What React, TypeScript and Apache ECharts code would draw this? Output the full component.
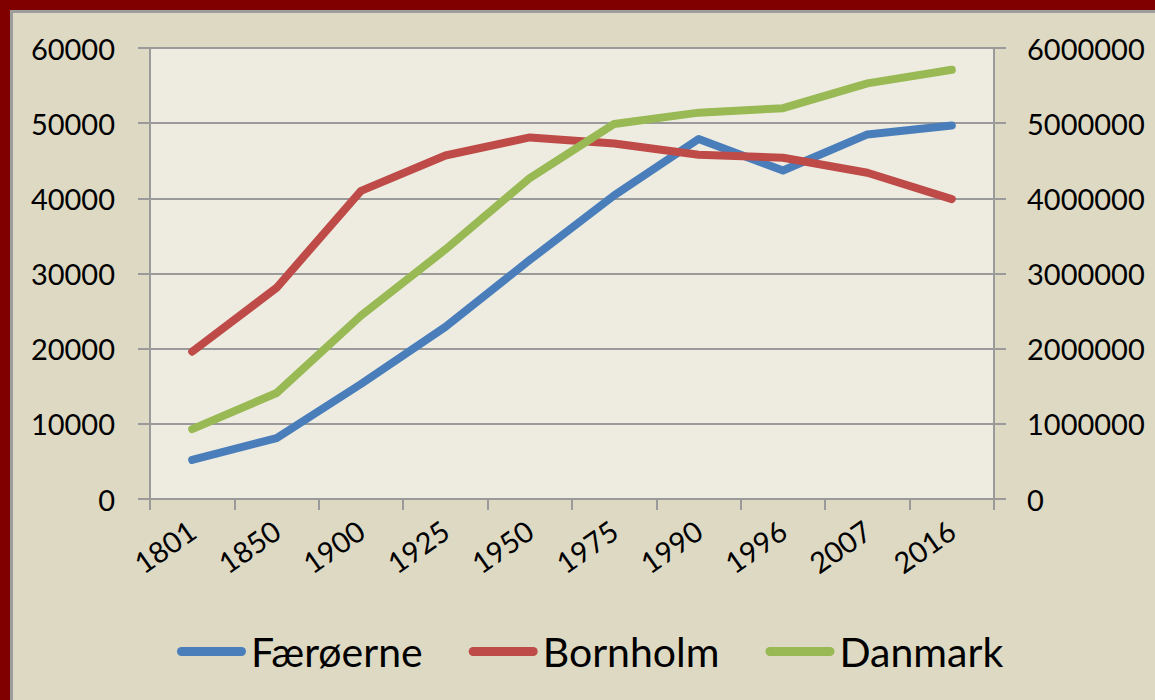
import React, { useEffect, useRef } from "react";
import * as echarts from "echarts";

const categories = ["1801", "1850", "1900", "1925", "1950", "1975", "1990", "1996", "2007", "2016"];
const faeroerne = [5200, 8100, 15300, 22900, 31800, 40400, 47900, 43700, 48500, 49700];
const bornholm = [19600, 28100, 41000, 45700, 48100, 47300, 45800, 45400, 43400, 39900];
const danmark = [929000, 1410000, 2440000, 3320000, 4270000, 4990000, 5140000, 5200000, 5530000, 5710000];
const leftTicks = { min: 0, max: 60000, interval: 10000 };
const rightTicks = { min: 0, max: 6000000, interval: 1000000 };

const FONT = "Lato";
const GRAY = "#9a9a9a";
const legendIcon = "path://M4.5,0 L64.5,0 A4.5,4.5 0 0 1 64.5,9 L4.5,9 A4.5,4.5 0 0 1 4.5,0 Z";

export default function App() {
  const ref = useRef<HTMLDivElement>(null);
  useEffect(() => {
    if (!ref.current) return;
    const chart = echarts.init(ref.current, undefined, { renderer: "svg" });
    const lineStyle = (color: string) => ({ color, width: 8, cap: "round", join: "round" });
    const plain = (v: number) => String(v);
    chart.setOption({
      animation: false,
      backgroundColor: "transparent",
      textStyle: { fontFamily: FONT },
      grid: {
        left: 150,
        right: 161,
        top: 48,
        bottom: 201,
        show: true,
        backgroundColor: "#eeece1",
        borderWidth: 0,
        containLabel: false,
        outerBoundsMode: "none",
      },
      legend: {
        top: 626,
        left: 172,
        itemWidth: 69,
        itemHeight: 9,
        itemGap: 46,
        textStyle: { fontFamily: FONT, fontSize: 41, color: "#000" },
        data: [
          { name: "Færøerne", icon: legendIcon, itemStyle: { color: "#4a7ebb" } },
          { name: "Bornholm", icon: legendIcon, itemStyle: { color: "#be4b48" } },
          { name: "Danmark", icon: legendIcon, itemStyle: { color: "#98b954" } },
        ],
      },
      xAxis: {
        type: "category",
        data: categories,
        boundaryGap: true,
        axisLine: { lineStyle: { color: GRAY, width: 2 } },
        axisTick: { show: true, length: 11, lineStyle: { color: GRAY, width: 2 }, alignWithLabel: false },
        axisLabel: { rotate: 35, margin: 28, fontSize: 29, fontFamily: FONT, color: "#000", interval: 0 },
      },
      yAxis: [
        {
          type: "value",
          ...leftTicks,
          position: "left",
          axisLine: { show: true, lineStyle: { color: GRAY, width: 2 } },
          axisTick: { show: true, length: 12, lineStyle: { color: GRAY, width: 2 } },
          axisLabel: { margin: 35, fontSize: 29, fontFamily: FONT, color: "#000", formatter: plain },
          splitLine: { show: true, lineStyle: { color: GRAY, width: 2 } },
        },
        {
          type: "value",
          ...rightTicks,
          position: "right",
          axisLine: { show: true, lineStyle: { color: GRAY, width: 2 } },
          axisTick: { show: true, length: 12, lineStyle: { color: GRAY, width: 2 } },
          axisLabel: { margin: 33, fontSize: 29, fontFamily: FONT, color: "#000", formatter: plain },
          splitLine: { show: false },
        },
      ],
      series: [
        {
          name: "Færøerne",
          type: "line",
          yAxisIndex: 0,
          data: faeroerne,
          showSymbol: false,
          symbol: "none",
          color: "#4a7ebb",
          lineStyle: lineStyle("#4a7ebb"),
          z: 3,
        },
        {
          name: "Bornholm",
          type: "line",
          yAxisIndex: 0,
          data: bornholm,
          showSymbol: false,
          symbol: "none",
          color: "#be4b48",
          lineStyle: lineStyle("#be4b48"),
          z: 4,
        },
        {
          name: "Danmark",
          type: "line",
          yAxisIndex: 1,
          data: danmark,
          showSymbol: false,
          symbol: "none",
          color: "#98b954",
          lineStyle: lineStyle("#98b954"),
          z: 5,
        },
      ],
    });
    return () => chart.dispose();
  }, []);

  return (
    <div style={{ position: "fixed", left: 0, top: 0, width: 1155, height: 700, background: "#800000", overflow: "hidden" }}>
      <div
        style={{
          position: "absolute",
          left: 10,
          top: 10,
          width: 1145,
          height: 690,
          background: "#ddd9c3",
          borderLeft: "3px solid #9d9d9d",
          borderTop: "3px solid #9d9d9d",
          boxSizing: "border-box",
        }}
      />
      <div ref={ref} style={{ position: "absolute", left: 0, top: 0, width: 1155, height: 700 }} />
    </div>
  );
}
